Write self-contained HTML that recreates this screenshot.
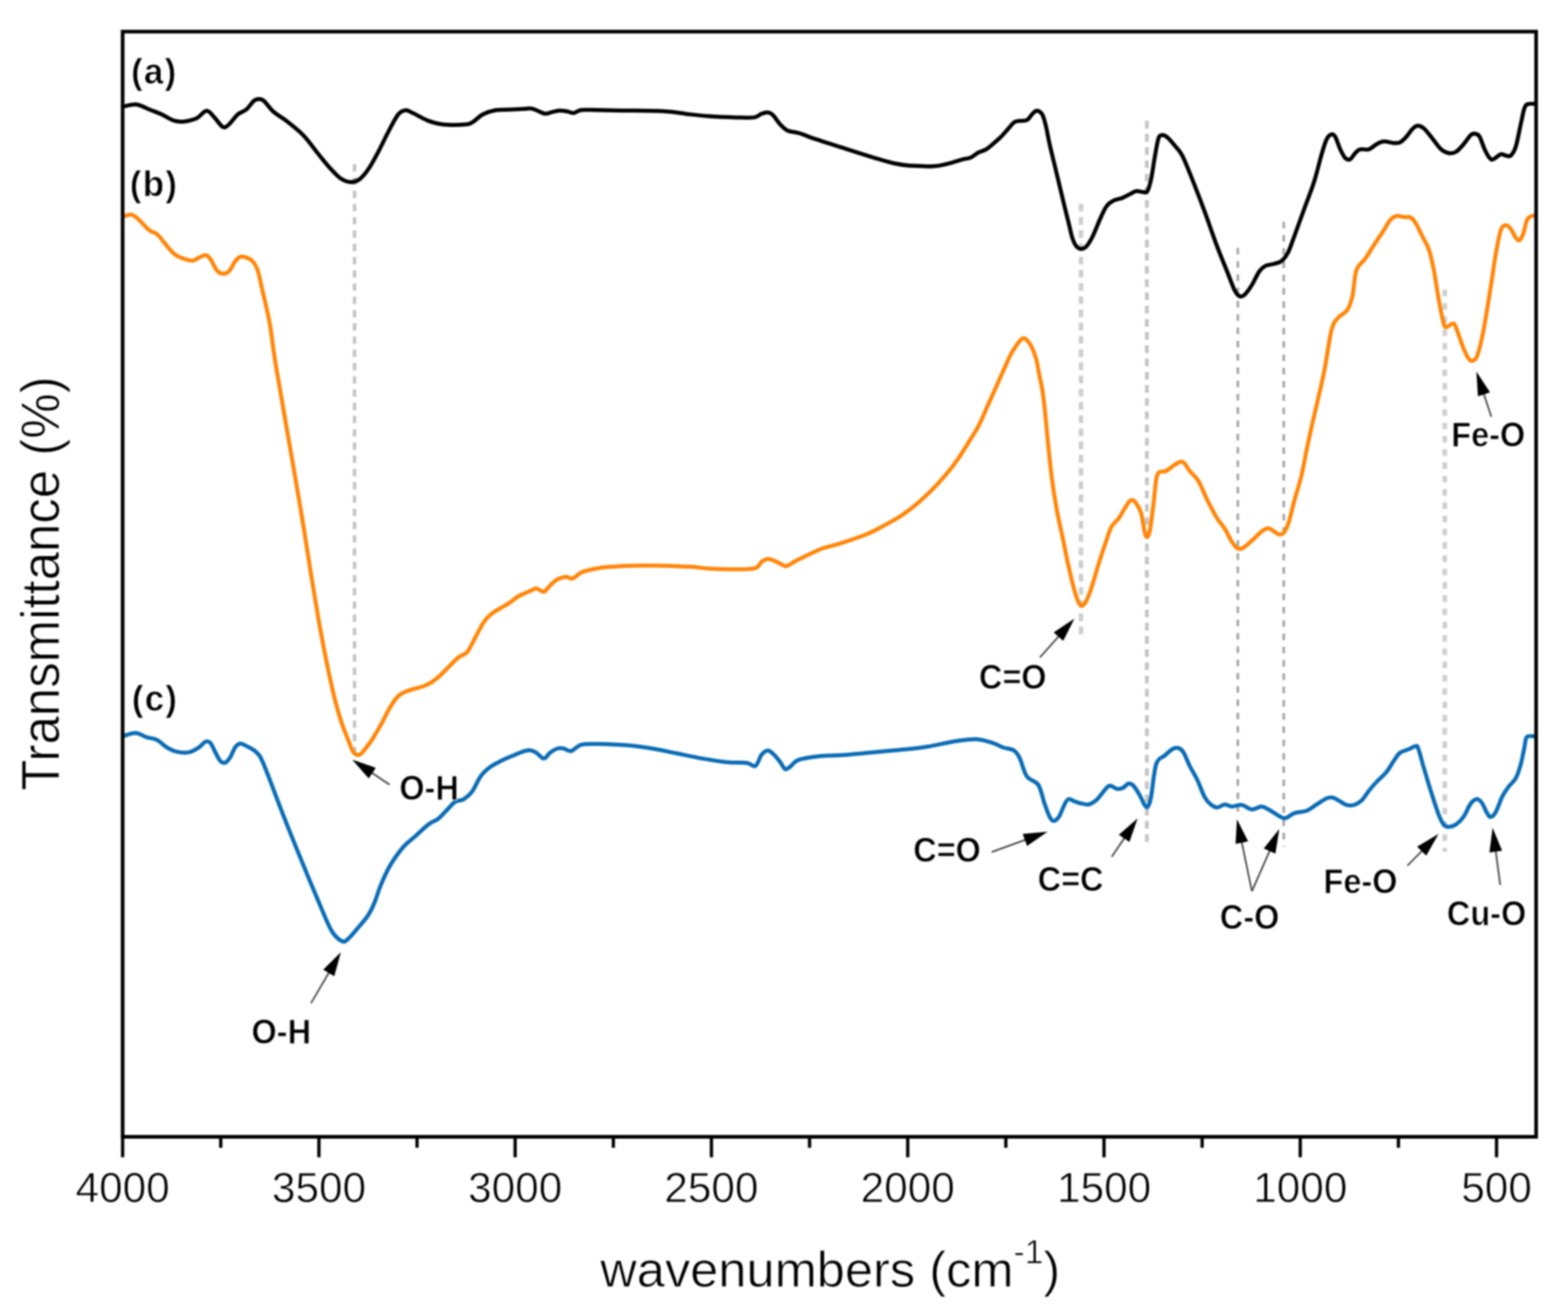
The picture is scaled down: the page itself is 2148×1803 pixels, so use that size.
<!DOCTYPE html>
<html lang="en"><head><meta charset="utf-8"><title>FTIR spectra</title>
<style>html,body{margin:0;padding:0;background:#fff}body{width:2148px;height:1803px;overflow:hidden}svg{display:block;filter:blur(0.90px)}text{font-family:"Liberation Sans",sans-serif;fill:#000;stroke:#fff;stroke-width:0.9px}.b{font-weight:bold;stroke:#fff;stroke-width:0.8px}</style></head><body>
<svg width="2148" height="1803" viewBox="0 0 2148 1803">
<rect width="2148" height="1803" fill="#fff"/>
<g fill="none">
<line x1="485.7" y1="225.0" x2="485.7" y2="1032.0" stroke="#c4c4c4" stroke-width="4.8" stroke-dasharray="10 8.15"/>
<line x1="1480.8" y1="279.3" x2="1480.8" y2="870.0" stroke="#cecece" stroke-width="6.2" stroke-dasharray="10.5 7.6"/>
<line x1="1571.1" y1="165.5" x2="1571.1" y2="1154.0" stroke="#c4c4c4" stroke-width="5.2" stroke-dasharray="10.5 7.6"/>
<line x1="1695.7" y1="339.5" x2="1695.7" y2="1112.0" stroke="#a6a6a6" stroke-width="3.6" stroke-dasharray="9 9.2"/>
<line x1="1758.6" y1="303.7" x2="1758.6" y2="1160.0" stroke="#a6a6a6" stroke-width="3.6" stroke-dasharray="9 9.2"/>
<line x1="1979.2" y1="397.0" x2="1979.2" y2="1167.0" stroke="#cecece" stroke-width="6.2" stroke-dasharray="9 9.2"/>
</g>
<path d="M168.8 1008.4C171.6 1007.8 180.4 1004.1 185.8 1004.3C191.2 1004.6 196.3 1008.6 201.2 1010.1C206.0 1011.7 210.3 1011.3 214.8 1013.6C219.3 1015.8 223.9 1021.1 228.4 1023.8C233.0 1026.5 237.0 1028.8 242.1 1029.9C247.2 1031.1 254.0 1031.6 259.1 1030.6C264.2 1029.6 269.1 1026.2 272.8 1023.8C276.5 1021.4 278.7 1017.3 281.3 1016.3C283.8 1015.3 285.8 1015.3 288.1 1017.6C290.4 1020.0 292.7 1026.5 294.9 1030.6C297.2 1034.7 299.5 1040.1 301.7 1042.5C304.0 1044.9 306.3 1045.8 308.6 1044.9C310.8 1044.1 313.1 1040.9 315.4 1037.4C317.7 1033.9 319.9 1026.9 322.2 1023.8C324.5 1020.7 326.5 1019.0 329.0 1018.7C331.6 1018.4 333.8 1020.1 337.5 1022.1C341.2 1024.1 347.2 1026.3 351.2 1030.6C355.2 1034.9 355.2 1033.0 361.4 1047.6C367.7 1062.3 380.2 1096.9 388.7 1118.4C397.1 1139.9 404.3 1157.7 412.1 1176.8C419.8 1195.9 428.4 1216.5 435.4 1232.9C442.4 1249.3 448.5 1265.5 454.1 1275.0C459.7 1284.4 464.9 1287.8 468.8 1289.6C472.7 1291.4 473.6 1289.0 477.3 1285.8C481.0 1282.6 486.4 1275.9 491.0 1270.5C495.5 1265.1 500.9 1259.1 504.6 1253.4C508.3 1247.7 510.3 1243.2 513.1 1236.4C516.0 1229.6 518.1 1220.9 521.7 1212.5C525.2 1204.1 529.3 1194.5 534.3 1186.0C539.4 1177.4 546.0 1167.9 551.9 1161.1C557.7 1154.3 563.6 1150.6 569.4 1145.3C575.2 1140.0 581.8 1133.4 586.9 1129.5C592.0 1125.6 595.9 1125.2 600.0 1122.0C604.1 1118.8 607.8 1114.2 611.7 1110.3C615.6 1106.4 619.5 1101.1 623.4 1098.6C627.3 1096.1 631.2 1097.4 635.0 1095.1C638.9 1092.8 642.8 1089.8 646.7 1084.6C650.6 1079.3 654.5 1069.0 658.4 1063.6C662.3 1058.1 666.2 1055.0 670.1 1051.9C674.0 1048.8 677.9 1047.0 681.8 1044.9C685.7 1042.7 689.6 1040.8 693.5 1039.0C697.4 1037.3 701.4 1035.9 705.1 1034.3C708.9 1032.8 712.5 1031.0 716.0 1029.9C719.5 1028.8 723.1 1027.6 726.2 1027.9C729.4 1028.1 731.6 1029.4 734.8 1031.3C737.9 1033.2 741.9 1039.1 745.0 1039.1C748.1 1039.1 750.4 1033.6 753.5 1031.3C756.6 1029.0 760.6 1026.5 763.7 1025.5C766.9 1024.5 769.1 1024.9 772.3 1025.5C775.4 1026.1 778.5 1029.7 782.5 1028.9C786.5 1028.0 790.2 1022.0 796.1 1020.4C802.1 1018.8 807.8 1019.2 818.3 1019.3C828.8 1019.5 846.7 1020.0 859.2 1021.1C871.7 1022.1 881.9 1023.6 893.3 1025.5C904.7 1027.4 916.0 1030.0 927.4 1032.3C938.8 1034.6 950.1 1037.1 961.5 1039.1C972.9 1041.1 985.4 1043.2 995.6 1044.2C1005.8 1045.3 1016.3 1044.4 1022.9 1045.3C1029.4 1046.1 1031.4 1051.2 1034.8 1049.4C1038.2 1047.5 1040.5 1037.5 1043.3 1034.0C1046.2 1030.5 1049.0 1028.2 1051.8 1028.2C1054.7 1028.2 1057.5 1031.3 1060.4 1034.0C1063.2 1036.7 1066.3 1040.9 1068.9 1044.2C1071.4 1047.5 1073.4 1052.8 1075.7 1053.8C1078.0 1054.8 1079.4 1052.5 1082.5 1050.4C1085.6 1048.2 1087.4 1043.3 1094.5 1040.8C1101.6 1038.4 1115.9 1036.7 1125.1 1035.7C1134.4 1034.7 1136.4 1035.8 1150.0 1034.8C1163.6 1033.8 1187.8 1031.5 1206.7 1029.7C1225.6 1027.9 1246.4 1026.4 1263.4 1024.0C1280.5 1021.7 1296.5 1017.4 1308.8 1015.5C1321.1 1013.7 1328.7 1012.3 1337.2 1012.7C1345.7 1013.1 1353.7 1015.9 1359.9 1017.8C1366.0 1019.7 1369.3 1022.4 1374.0 1024.0C1378.8 1025.7 1384.4 1025.4 1388.2 1027.7C1392.0 1030.1 1393.7 1032.2 1396.7 1038.2C1399.8 1044.2 1402.4 1057.6 1406.7 1063.8C1410.9 1069.9 1418.2 1069.0 1422.3 1075.1C1426.3 1081.2 1428.2 1093.3 1430.8 1100.6C1433.4 1108.0 1435.7 1115.0 1437.9 1119.1C1440.0 1123.1 1441.4 1124.7 1443.5 1124.7C1445.7 1124.7 1448.3 1122.6 1450.6 1119.1C1453.0 1115.5 1455.6 1107.5 1457.7 1103.5C1459.8 1099.4 1461.0 1095.9 1463.4 1095.0C1465.7 1094.0 1469.1 1096.8 1471.9 1097.8C1474.7 1098.7 1477.1 1099.9 1480.4 1100.6C1483.7 1101.3 1488.0 1103.0 1491.7 1102.0C1495.5 1101.1 1499.1 1098.7 1503.1 1095.0C1507.1 1091.2 1512.8 1082.4 1515.9 1079.4C1518.9 1076.3 1519.2 1076.3 1521.5 1076.5C1523.9 1076.8 1527.2 1080.3 1530.0 1080.8C1532.9 1081.2 1535.9 1080.5 1538.5 1079.4C1541.1 1078.2 1543.3 1074.2 1545.6 1073.7C1548.0 1073.2 1550.1 1073.9 1552.7 1076.5C1555.3 1079.1 1558.6 1084.8 1561.2 1089.3C1563.8 1093.8 1566.4 1100.9 1568.3 1103.5C1570.2 1106.1 1571.2 1106.8 1572.6 1104.9C1574.0 1103.0 1574.9 1101.8 1576.8 1092.1C1578.7 1082.4 1580.8 1056.2 1583.9 1046.7C1587.0 1037.3 1591.5 1038.8 1595.3 1035.4C1599.0 1031.9 1603.4 1027.8 1606.6 1026.0C1609.8 1024.3 1612.0 1024.0 1614.4 1024.8C1616.8 1025.6 1618.7 1026.5 1621.2 1030.6C1623.8 1034.7 1626.6 1043.1 1629.8 1049.4C1632.9 1055.6 1636.6 1061.0 1640.0 1068.1C1643.4 1075.2 1647.1 1086.3 1650.2 1092.0C1653.3 1097.7 1655.9 1099.8 1658.7 1102.2C1661.6 1104.6 1664.1 1106.3 1667.3 1106.3C1670.4 1106.3 1674.1 1102.4 1677.5 1102.2C1680.9 1102.0 1683.7 1104.8 1687.7 1104.9C1691.7 1105.0 1696.8 1102.2 1701.4 1102.9C1705.9 1103.6 1710.4 1108.7 1715.0 1109.0C1719.5 1109.4 1724.1 1104.5 1728.6 1104.9C1733.2 1105.4 1737.2 1109.1 1742.3 1111.7C1747.4 1114.4 1754.2 1120.6 1759.3 1121.0C1764.4 1121.4 1767.8 1115.8 1773.0 1114.1C1778.1 1112.4 1784.9 1112.7 1790.0 1110.7C1795.1 1108.7 1799.1 1105.0 1803.6 1102.2C1808.2 1099.4 1813.6 1095.3 1817.3 1093.7C1821.0 1092.1 1823.0 1092.1 1825.8 1092.7C1828.6 1093.2 1831.2 1095.4 1834.3 1097.1C1837.4 1098.8 1841.1 1101.9 1844.6 1102.9C1848.0 1103.8 1851.4 1103.8 1854.8 1102.9C1858.2 1101.9 1861.6 1100.3 1865.0 1097.1C1868.4 1093.8 1871.8 1087.7 1875.2 1083.4C1878.6 1079.2 1881.5 1075.8 1885.5 1071.5C1889.4 1067.3 1895.1 1062.7 1899.1 1057.9C1903.1 1053.0 1906.2 1047.0 1909.3 1042.5C1912.5 1038.1 1914.4 1034.0 1917.9 1031.3C1921.3 1028.6 1926.1 1028.0 1929.8 1026.5C1933.5 1025.0 1937.7 1022.0 1940.0 1022.1C1942.3 1022.2 1941.7 1022.4 1943.4 1027.2C1945.1 1032.0 1947.4 1041.4 1950.2 1051.1C1953.1 1060.7 1957.1 1074.4 1960.5 1085.2C1963.9 1095.9 1967.9 1108.5 1970.7 1115.8C1973.5 1123.2 1975.3 1126.6 1977.5 1129.5C1979.8 1132.3 1981.5 1132.9 1984.3 1132.9C1987.2 1132.9 1991.2 1131.7 1994.6 1129.5C1998.0 1127.2 2001.4 1124.1 2004.8 1119.2C2008.2 1114.4 2011.9 1104.6 2015.0 1100.5C2018.2 1096.4 2021.0 1094.7 2023.6 1094.7C2026.1 1094.7 2028.1 1097.3 2030.4 1100.5C2032.6 1103.7 2035.2 1111.0 2037.2 1114.1C2039.2 1117.3 2040.3 1119.5 2042.3 1119.2C2044.3 1119.0 2046.6 1117.0 2049.1 1112.4C2051.7 1107.9 2054.8 1097.7 2057.6 1092.0C2060.5 1086.3 2063.0 1082.6 2066.2 1078.3C2069.3 1074.1 2073.6 1071.5 2076.4 1066.4C2079.2 1061.3 2081.2 1054.8 2083.2 1047.6C2085.2 1040.5 2086.9 1030.1 2088.3 1023.8C2089.8 1017.4 2089.2 1011.9 2091.7 1009.5C2094.3 1007.0 2101.7 1009.2 2103.7 1009.1" fill="none" stroke="#0a6cb5" stroke-width="5.5" stroke-linejoin="round" stroke-linecap="butt"/>
<path d="M168.8 296.6C170.5 296.2 175.9 293.6 179.0 293.9C182.1 294.2 183.3 294.8 187.5 298.3C191.8 301.9 200.0 311.7 204.6 315.4C209.1 319.1 211.4 317.7 214.8 320.5C218.2 323.3 221.1 327.9 225.0 332.4C229.0 337.0 234.1 344.1 238.7 347.8C243.2 351.5 248.0 353.1 252.3 354.6C256.6 356.1 260.8 357.3 264.2 357.0C267.6 356.7 269.9 354.1 272.8 352.9C275.6 351.6 278.7 349.2 281.3 349.5C283.8 349.8 285.5 351.2 288.1 354.6C290.7 358.0 293.8 366.5 296.6 369.9C299.5 373.3 302.3 374.8 305.2 375.0C308.0 375.3 310.8 374.5 313.7 371.6C316.5 368.8 319.6 361.3 322.2 358.0C324.8 354.7 326.5 352.7 329.0 351.9C331.6 351.0 334.7 351.9 337.5 352.9C340.4 353.9 343.5 355.2 346.1 358.0C348.6 360.8 350.6 363.1 352.9 369.9C355.2 376.8 356.9 386.7 359.7 398.9C362.5 411.1 366.5 426.2 369.5 443.2C372.6 460.3 372.1 465.2 378.0 501.2C384.0 537.2 399.1 622.4 405.3 659.0C411.6 695.5 412.1 699.3 415.6 720.3C419.0 741.4 422.4 764.1 425.8 785.1C429.2 806.1 432.6 827.2 436.0 846.5C439.4 865.8 442.8 884.0 446.2 901.0C449.6 918.1 453.1 934.6 456.5 948.8C459.9 963.0 463.3 975.5 466.7 986.3C470.1 997.1 474.0 1006.2 476.9 1013.6C479.8 1020.9 481.5 1027.2 484.2 1030.6C486.8 1034.0 489.9 1034.9 492.7 1034.0C495.5 1033.1 498.0 1028.8 500.9 1025.2C503.9 1021.6 506.8 1017.8 510.3 1012.4C513.8 1006.9 518.1 999.5 522.0 992.5C525.9 985.5 529.8 976.8 533.6 970.3C537.5 963.9 541.4 957.9 545.3 954.0C549.2 950.1 551.2 949.3 557.0 947.0C562.9 944.6 574.5 942.1 580.4 940.0C586.2 937.8 588.2 936.6 592.1 934.1C596.0 931.6 597.9 930.2 603.7 924.8C609.6 919.3 621.1 906.6 627.1 901.4C633.1 896.2 635.9 898.2 640.0 893.4C644.1 888.5 647.8 879.3 651.7 872.3C655.6 865.3 659.5 856.8 663.4 851.3C667.3 845.9 671.2 842.7 675.0 839.6C678.9 836.5 682.8 835.0 686.7 832.6C690.6 830.3 694.5 828.2 698.4 825.6C702.3 823.0 705.5 819.6 710.1 817.0C714.7 814.3 722.1 811.4 726.2 809.7C730.3 807.9 731.6 806.1 734.8 806.3C737.9 806.4 741.9 811.4 745.0 810.7C748.1 810.0 750.4 805.0 753.5 802.2C756.6 799.3 760.0 795.6 763.7 793.6C767.4 791.6 772.3 790.4 775.7 790.2C779.1 790.1 780.8 793.6 784.2 792.6C787.6 791.6 791.6 786.5 796.1 784.4C800.7 782.3 804.9 781.3 811.5 780.0C818.0 778.7 825.7 777.4 835.3 776.6C845.0 775.7 858.1 775.2 869.4 774.9C880.8 774.6 890.5 774.6 903.5 774.9C916.6 775.2 936.5 775.9 947.8 776.6C959.2 777.3 961.5 778.4 971.7 779.0C981.9 779.5 998.7 780.1 1009.2 780.0C1019.7 779.9 1029.1 780.0 1034.8 778.3C1040.5 776.6 1040.5 771.9 1043.3 769.8C1046.2 767.7 1049.0 766.0 1051.8 765.7C1054.7 765.4 1057.2 766.8 1060.4 768.1C1063.5 769.3 1067.7 771.9 1070.6 773.2C1073.4 774.4 1074.6 776.1 1077.4 775.6C1080.3 775.0 1083.7 771.9 1087.6 769.8C1091.6 767.7 1095.0 765.9 1101.3 763.0C1107.5 760.0 1116.6 755.2 1125.1 752.0C1133.7 748.9 1142.2 747.5 1152.4 744.2C1162.6 740.9 1176.9 736.2 1186.5 732.3C1196.2 728.3 1202.4 724.6 1210.4 720.3C1218.3 716.1 1226.9 711.5 1234.2 706.7C1241.6 701.9 1247.9 697.0 1254.7 691.4C1261.5 685.7 1268.3 679.4 1275.2 672.6C1282.0 665.8 1289.4 657.8 1295.6 650.4C1301.9 643.1 1306.8 636.7 1312.7 628.3C1318.5 619.9 1325.8 607.8 1330.6 600.0C1335.5 592.2 1337.9 588.7 1341.7 581.2C1345.5 573.7 1349.5 563.6 1353.4 554.9C1357.3 546.3 1361.2 537.9 1365.0 529.2C1368.9 520.6 1373.2 510.6 1376.7 502.9C1380.2 495.3 1382.1 489.6 1386.1 483.1C1390.0 476.6 1396.3 466.1 1400.4 464.0C1404.5 461.9 1407.4 466.0 1410.5 470.5C1413.6 475.0 1416.9 483.6 1419.1 490.8C1421.3 497.9 1422.1 505.9 1423.7 513.4C1425.2 521.0 1426.9 527.6 1428.2 536.1C1429.5 544.6 1430.5 553.8 1431.6 564.5C1432.7 575.1 1433.5 585.4 1435.0 600.0C1436.5 614.6 1438.5 636.1 1440.5 652.1C1442.6 668.2 1444.8 682.3 1447.3 696.5C1449.9 710.7 1453.0 723.7 1455.9 737.4C1458.7 751.0 1461.5 765.8 1464.4 778.3C1467.2 790.8 1470.4 804.0 1472.9 812.4C1475.5 820.8 1477.5 826.5 1479.7 828.8C1482.0 831.0 1484.0 829.9 1486.6 826.0C1489.1 822.2 1492.0 814.7 1495.1 805.6C1498.2 796.5 1501.9 782.3 1505.3 771.5C1508.7 760.7 1512.7 749.0 1515.5 740.8C1518.4 732.6 1519.5 727.2 1522.4 722.0C1525.2 716.9 1529.2 714.9 1532.6 710.1C1536.0 705.3 1540.0 697.2 1542.8 693.1C1545.7 688.9 1547.4 685.8 1549.6 685.2C1551.9 684.6 1554.2 686.6 1556.4 689.6C1558.7 692.7 1561.3 696.5 1563.3 703.3C1565.3 710.1 1567.0 725.2 1568.4 730.6C1569.8 736.0 1570.7 736.2 1571.8 735.7C1572.9 735.1 1573.8 734.8 1575.2 727.2C1576.6 719.5 1578.6 702.4 1580.3 689.6C1582.0 676.9 1582.6 657.8 1585.4 650.4C1588.3 643.1 1593.4 647.6 1597.4 645.3C1601.3 643.1 1605.9 639.0 1609.3 636.8C1612.7 634.6 1615.5 632.7 1617.8 632.4C1620.1 632.1 1620.9 632.9 1622.9 635.1C1624.9 637.3 1626.6 641.3 1629.8 645.3C1632.9 649.3 1637.7 652.4 1641.7 659.0C1645.7 665.5 1649.4 676.0 1653.6 684.5C1657.9 693.1 1663.3 703.6 1667.3 710.1C1671.2 716.6 1674.1 718.3 1677.5 723.7C1680.9 729.1 1684.6 737.8 1687.7 742.5C1690.8 747.2 1693.4 750.6 1696.2 751.7C1699.1 752.8 1701.4 751.4 1704.8 749.3C1708.2 747.2 1712.7 742.7 1716.7 739.1C1720.7 735.5 1725.2 730.4 1728.6 727.8C1732.0 725.3 1734.6 723.9 1737.2 723.7C1739.7 723.6 1741.4 725.7 1744.0 727.2C1746.5 728.6 1749.9 732.0 1752.5 732.3C1755.1 732.6 1757.0 732.0 1759.3 728.9C1761.6 725.7 1763.9 720.6 1766.1 713.5C1768.4 706.4 1770.2 696.5 1773.0 686.2C1775.7 676.0 1780.0 663.5 1782.8 652.1C1785.5 640.8 1787.3 629.0 1789.6 618.0C1791.9 607.1 1792.4 604.2 1796.4 586.4C1800.4 568.7 1808.9 533.6 1813.5 511.4C1818.0 489.3 1820.6 466.0 1823.7 453.5C1826.8 441.0 1828.5 441.2 1832.2 436.4C1835.9 431.6 1842.4 429.6 1845.8 424.5C1849.3 419.4 1850.6 414.8 1852.7 405.7C1854.7 396.6 1855.3 378.5 1858.2 369.9C1861.1 361.4 1866.1 360.3 1870.1 354.6C1874.1 348.9 1877.8 342.4 1882.1 335.8C1886.3 329.3 1892.0 321.1 1895.7 315.4C1899.4 309.7 1901.4 305.0 1904.2 301.7C1907.1 298.5 1909.6 296.7 1912.7 295.9C1915.9 295.2 1919.6 296.9 1923.0 297.3C1926.4 297.7 1930.4 296.7 1933.2 298.3C1936.0 299.9 1937.5 302.6 1940.0 306.9C1942.6 311.1 1945.7 318.2 1948.5 323.9C1951.4 329.6 1954.5 333.6 1957.1 341.0C1959.6 348.3 1961.6 356.9 1963.9 368.2C1966.2 379.6 1968.5 397.2 1970.7 409.1C1972.9 421.1 1975.1 433.3 1976.8 439.8C1978.5 446.4 1978.5 447.8 1980.9 448.4C1983.3 448.9 1988.6 442.4 1991.2 443.2C1993.7 444.1 1994.0 447.8 1996.3 453.5C1998.5 459.1 2002.2 471.1 2004.8 477.3C2007.4 483.6 2009.6 488.1 2011.6 491.0C2013.6 493.8 2014.7 494.9 2016.7 494.4C2018.7 493.8 2021.0 494.4 2023.6 487.6C2026.1 480.7 2029.0 469.4 2032.1 453.5C2035.2 437.6 2039.5 409.7 2042.3 392.1C2045.1 374.5 2046.9 360.6 2049.1 347.8C2051.4 335.0 2053.7 321.9 2055.9 315.4C2058.2 308.8 2060.5 308.8 2062.8 308.6C2065.0 308.3 2067.3 310.8 2069.6 313.7C2071.9 316.5 2074.4 323.1 2076.4 325.6C2078.4 328.2 2079.8 329.9 2081.5 329.0C2083.2 328.2 2084.9 325.0 2086.6 320.5C2088.3 315.9 2090.0 305.7 2091.7 301.7C2093.4 297.8 2094.9 297.8 2096.9 296.6C2098.8 295.5 2102.5 295.2 2103.7 294.9" fill="none" stroke="#ff8609" stroke-width="5.5" stroke-linejoin="round" stroke-linecap="butt"/>
<path d="M168.8 145.9C171.9 145.5 181.6 142.5 187.5 143.2C193.5 143.9 198.9 147.7 204.6 150.0C210.3 152.3 215.9 154.3 221.6 156.8C227.3 159.4 233.6 163.8 238.7 165.4C243.8 167.0 247.2 167.0 252.3 166.4C257.4 165.8 264.2 164.4 269.4 162.0C274.5 159.5 279.0 152.0 283.0 151.7C287.0 151.4 289.5 156.6 293.2 160.2C296.9 163.9 301.7 172.2 305.2 173.9C308.6 175.6 310.3 173.3 313.7 170.5C317.1 167.6 321.6 160.2 325.6 156.8C329.6 153.4 333.8 153.1 337.5 150.0C341.2 146.9 344.9 140.5 347.8 138.1C350.6 135.7 352.3 135.7 354.6 135.7C356.9 135.7 358.0 135.1 361.4 138.1C364.8 141.0 369.9 148.9 375.0 153.4C380.2 158.0 385.3 160.0 392.1 165.4C398.9 170.8 408.6 178.1 416.0 185.8C423.3 193.5 430.2 203.7 436.4 211.4C442.7 219.1 448.4 226.3 453.5 231.8C458.6 237.4 462.6 241.8 467.1 244.8C471.7 247.8 476.5 249.5 480.7 249.6C485.0 249.7 488.7 248.4 492.7 245.5C496.7 242.5 500.3 238.1 504.6 231.8C508.9 225.6 513.7 216.5 518.2 208.0C522.8 199.5 527.3 189.2 531.9 180.7C536.4 172.2 541.5 161.8 545.5 156.8C549.5 151.9 552.3 151.3 555.8 151.0C559.2 150.8 560.9 152.7 566.0 155.1C571.1 157.5 579.6 162.8 586.4 165.4C593.3 167.9 598.4 169.6 606.9 170.5C615.4 171.3 630.8 171.0 637.6 170.5C644.4 169.9 643.8 169.3 647.8 167.1C651.8 164.8 656.3 159.5 661.4 156.8C666.6 154.2 671.7 152.2 678.5 151.0C685.3 149.9 696.1 150.3 702.4 150.0C708.6 149.7 711.7 149.6 716.0 149.3C720.3 149.1 724.5 148.3 727.9 148.7C731.3 149.1 733.3 150.5 736.5 151.7C739.6 152.9 743.3 155.5 746.7 155.8C750.1 156.1 753.5 154.2 756.9 153.4C760.3 152.7 763.7 151.5 767.1 151.4C770.6 151.3 774.2 152.2 777.4 152.7C780.5 153.3 782.8 155.1 785.9 154.8C789.0 154.5 790.7 151.4 796.1 150.7C801.5 150.0 808.9 150.6 818.3 150.7C827.7 150.8 837.0 151.1 852.4 151.4C867.7 151.7 895.6 151.6 910.3 152.4C925.1 153.2 930.8 155.0 941.0 156.2C951.3 157.3 960.3 158.4 971.7 159.2C983.1 160.0 999.0 160.6 1009.2 160.9C1019.4 161.2 1027.4 161.8 1033.1 160.9C1038.8 160.1 1040.2 157.0 1043.3 155.8C1046.4 154.7 1049.3 153.8 1051.8 154.1C1054.4 154.4 1055.8 154.8 1058.7 157.5C1061.5 160.2 1065.5 166.9 1068.9 170.5C1072.3 174.1 1074.9 177.0 1079.1 179.0C1083.4 181.0 1087.9 180.4 1094.5 182.4C1101.0 184.4 1108.7 187.7 1118.3 190.9C1128.0 194.2 1139.9 197.9 1152.4 201.8C1164.9 205.8 1180.8 211.0 1193.3 214.8C1205.8 218.6 1218.3 222.3 1227.4 224.3C1236.5 226.4 1239.4 226.5 1247.9 227.1C1256.4 227.6 1270.6 228.1 1278.6 227.8C1286.5 227.4 1288.8 226.6 1295.6 225.0C1302.4 223.4 1313.8 219.7 1319.5 218.2C1325.2 216.7 1326.5 217.4 1330.0 215.8C1333.5 214.2 1337.0 210.6 1340.5 208.8C1344.0 206.9 1347.7 206.6 1351.0 204.7C1354.3 202.7 1357.1 199.9 1360.4 197.1C1363.7 194.3 1367.4 191.3 1370.9 187.8C1374.4 184.3 1378.3 179.5 1381.4 176.1C1384.5 172.7 1386.9 169.1 1389.6 167.3C1392.3 165.6 1394.8 166.0 1397.8 165.6C1400.7 165.1 1404.4 166.0 1407.1 164.4C1409.8 162.8 1412.2 158.3 1414.1 156.2C1416.1 154.2 1417.2 152.7 1418.8 152.1C1420.3 151.5 1421.9 151.6 1423.5 152.5C1425.0 153.4 1426.6 154.0 1428.1 157.4C1429.7 160.7 1431.2 166.1 1432.8 172.6C1434.4 179.0 1435.5 187.2 1437.5 195.9C1439.4 204.7 1442.1 215.4 1444.5 225.1C1446.8 234.9 1449.2 244.6 1451.5 254.3C1453.8 264.1 1456.4 274.8 1458.5 283.6C1460.6 292.3 1462.6 299.8 1464.3 306.9C1466.1 314.0 1467.3 320.9 1469.0 326.0C1470.7 331.1 1472.5 335.0 1474.6 337.5C1476.7 340.0 1479.2 341.0 1481.4 341.0C1483.7 341.0 1485.7 340.4 1488.3 337.5C1490.8 334.7 1493.7 330.2 1496.8 323.9C1499.9 317.7 1503.9 306.9 1507.0 300.0C1510.1 293.2 1512.7 287.1 1515.5 283.0C1518.4 278.9 1520.4 277.5 1524.1 275.5C1527.8 273.5 1533.7 272.6 1537.7 271.1C1541.7 269.5 1544.8 267.5 1547.9 265.9C1551.0 264.4 1553.3 262.3 1556.4 261.9C1559.6 261.4 1564.1 263.2 1566.7 263.2C1569.2 263.2 1570.1 264.8 1571.8 261.9C1573.5 258.9 1575.2 253.3 1576.9 245.5C1578.6 237.6 1580.3 224.2 1582.0 214.8C1583.7 205.4 1585.4 194.2 1587.1 189.2C1588.8 184.3 1590.3 185.3 1592.2 185.1C1594.2 185.0 1596.2 185.8 1599.1 188.2C1601.9 190.6 1605.9 195.3 1609.3 199.5C1612.7 203.6 1615.5 205.4 1619.5 213.1C1623.5 220.8 1628.0 232.7 1633.2 245.5C1638.3 258.3 1644.5 274.5 1650.2 289.8C1655.9 305.2 1662.1 323.9 1667.3 337.5C1672.4 351.2 1676.9 361.7 1680.9 371.6C1684.9 381.6 1688.3 391.5 1691.1 397.2C1694.0 402.9 1695.7 404.6 1697.9 405.7C1700.2 406.9 1701.9 406.6 1704.8 404.0C1707.6 401.5 1711.6 395.8 1715.0 390.4C1718.4 385.0 1722.1 376.0 1725.2 371.6C1728.3 367.3 1730.3 365.8 1733.7 364.1C1737.2 362.4 1742.0 362.5 1745.7 361.4C1749.4 360.3 1752.8 359.9 1755.9 357.3C1759.0 354.8 1761.6 351.6 1764.4 346.1C1767.3 340.5 1769.3 333.8 1773.0 323.9C1776.6 314.0 1782.0 298.9 1786.6 286.4C1791.1 273.9 1796.3 261.4 1800.2 248.9C1804.2 236.4 1807.6 221.1 1810.5 211.4C1813.3 201.7 1815.0 195.5 1817.3 190.9C1819.5 186.4 1822.1 184.7 1824.1 184.1C1826.1 183.5 1827.2 184.1 1829.2 187.5C1831.2 190.9 1833.8 199.7 1836.0 204.6C1838.3 209.4 1840.6 214.2 1842.8 216.5C1845.1 218.8 1847.4 219.3 1849.7 218.2C1851.9 217.1 1854.2 212.0 1856.5 209.7C1858.8 207.4 1860.2 205.4 1863.3 204.6C1866.4 203.7 1871.5 205.7 1875.2 204.6C1878.9 203.4 1882.1 199.6 1885.5 197.8C1888.9 195.9 1891.7 193.9 1895.7 193.7C1899.7 193.4 1905.6 195.8 1909.3 196.0C1913.0 196.3 1915.0 196.4 1917.9 195.0C1920.7 193.6 1923.5 190.6 1926.4 187.5C1929.2 184.5 1932.3 179.2 1934.9 176.6C1937.5 174.1 1939.2 172.4 1941.7 172.2C1944.3 172.0 1947.1 173.0 1950.2 175.6C1953.4 178.1 1956.5 182.7 1960.5 187.5C1964.5 192.4 1970.1 200.9 1974.1 204.6C1978.1 208.3 1980.9 209.1 1984.3 209.7C1987.8 210.3 1991.2 210.0 1994.6 208.0C1998.0 206.0 2001.4 201.6 2004.8 197.8C2008.2 193.9 2012.2 187.2 2015.0 184.8C2017.9 182.4 2019.9 183.0 2021.8 183.4C2023.8 183.9 2025.0 184.0 2027.0 187.5C2029.0 191.0 2031.5 199.7 2033.8 204.6C2036.1 209.4 2038.6 214.2 2040.6 216.5C2042.6 218.8 2043.2 219.1 2045.7 218.2C2048.3 217.4 2053.1 212.2 2055.9 211.4C2058.8 210.5 2060.5 212.8 2062.8 213.1C2065.0 213.4 2067.3 215.1 2069.6 213.1C2071.9 211.1 2074.1 208.3 2076.4 201.2C2078.7 194.1 2081.2 179.3 2083.2 170.5C2085.2 161.7 2086.6 153.0 2088.3 148.3C2090.0 143.7 2090.9 143.5 2093.4 142.5C2096.0 141.6 2102.0 142.5 2103.7 142.5" fill="none" stroke="#000" stroke-width="5.5" stroke-linejoin="round" stroke-linecap="butt"/>
<rect x="168.0" y="43.3" width="1936.3" height="1514.2" fill="none" stroke="#000" stroke-width="5.0"/>
<path d="M168.0 1557.5V1585.5M302.4 1557.5V1572.5M436.9 1557.5V1585.5M571.3 1557.5V1572.5M705.7 1557.5V1585.5M840.2 1557.5V1572.5M974.6 1557.5V1585.5M1109.0 1557.5V1572.5M1243.5 1557.5V1585.5M1377.9 1557.5V1572.5M1512.4 1557.5V1585.5M1646.8 1557.5V1572.5M1781.2 1557.5V1585.5M1915.7 1557.5V1572.5M2050.1 1557.5V1585.5" stroke="#000" stroke-width="4.5" fill="none"/>
<g font-size="58.0" text-anchor="middle">
<text x="168.0" y="1647.3">4000</text>
<text x="436.9" y="1647.3">3500</text>
<text x="705.7" y="1647.3">3000</text>
<text x="974.6" y="1647.3">2500</text>
<text x="1243.5" y="1647.3">2000</text>
<text x="1512.4" y="1647.3">1500</text>
<text x="1781.2" y="1647.3">1000</text>
<text x="2050.1" y="1647.3">500</text>
</g>
<text x="822.3" y="1762.5" font-size="69.3">wavenumbers (cm<tspan font-size="46.0" dy="-32.0">-1</tspan><tspan dy="32.0">)</tspan></text>
<text transform="translate(81.2 799.5) rotate(-90) scale(1 1.060)" font-size="69.8" text-anchor="middle">Transmittance (%)</text>
<g class="b" font-size="48.0" letter-spacing="1.7">
<text transform="translate(179.4 114.8) scale(1 1.030)">(a)</text>
<text transform="translate(177.7 269.0) scale(1 1.030)">(b)</text>
<text transform="translate(180.5 973.5) scale(1 1.030)">(c)</text>
</g>
<g class="b" font-size="44.5">
<text transform="translate(547.0 1095.5) scale(1 1.070)">O-H</text>
<text transform="translate(344.5 1429.5) scale(1 1.070)">O-H</text>
<text transform="translate(1341.0 943.5) scale(1 1.070)">C=O</text>
<text transform="translate(1251.0 1180.5) scale(1 1.070)">C=O</text>
<text transform="translate(1421.5 1220.5) scale(1 1.070)">C=C</text>
<text transform="translate(1671.0 1272.5) scale(1 1.070)">C-O</text>
<text transform="translate(1813.0 1223.5) scale(1 1.070)">Fe-O</text>
<text transform="translate(1982.0 1267.5) scale(1 1.070)">Cu-O</text>
<text transform="translate(1988.0 612.0) scale(1 1.070)">Fe-O</text>
</g>
<line x1="533.6" y1="1075.0" x2="508.3" y2="1058.0" stroke="#484848" stroke-width="2.3"/><polygon points="482.5,1040.8 514.8,1051.9 505.1,1066.4" fill="#000"/>
<line x1="426.0" y1="1374.5" x2="451.3" y2="1331.3" stroke="#484848" stroke-width="2.3"/><polygon points="467.0,1304.6 457.9,1337.5 442.8,1328.6" fill="#000"/>
<line x1="1424.5" y1="900.7" x2="1451.3" y2="870.7" stroke="#484848" stroke-width="2.3"/><polygon points="1471.9,847.6 1456.5,878.0 1443.4,866.4" fill="#000"/>
<line x1="1358.5" y1="1167.3" x2="1405.9" y2="1150.1" stroke="#484848" stroke-width="2.3"/><polygon points="1435.0,1139.5 1407.0,1159.0 1401.0,1142.5" fill="#000"/>
<line x1="1523.0" y1="1173.8" x2="1541.1" y2="1147.0" stroke="#484848" stroke-width="2.3"/><polygon points="1558.4,1121.3 1547.2,1153.6 1532.7,1143.8" fill="#000"/>
<line x1="1715.0" y1="1221.0" x2="1700.8" y2="1152.6" stroke="#484848" stroke-width="2.3"/><polygon points="1694.5,1122.2 1709.8,1152.7 1692.6,1156.3" fill="#000"/>
<line x1="1715.0" y1="1221.0" x2="1740.0" y2="1164.2" stroke="#484848" stroke-width="2.3"/><polygon points="1752.5,1135.8 1747.2,1169.5 1731.2,1162.5" fill="#000"/>
<line x1="1928.0" y1="1186.0" x2="1949.0" y2="1164.7" stroke="#484848" stroke-width="2.3"/><polygon points="1970.7,1142.6 1953.8,1172.3 1941.3,1160.0" fill="#000"/>
<line x1="2055.2" y1="1212.5" x2="2048.8" y2="1164.7" stroke="#484848" stroke-width="2.3"/><polygon points="2044.7,1134.0 2057.7,1165.5 2040.4,1167.9" fill="#000"/>
<line x1="2043.0" y1="571.0" x2="2032.2" y2="538.4" stroke="#484848" stroke-width="2.3"/><polygon points="2022.5,509.0 2041.2,537.6 2024.6,543.1" fill="#000"/>
</svg></body></html>
